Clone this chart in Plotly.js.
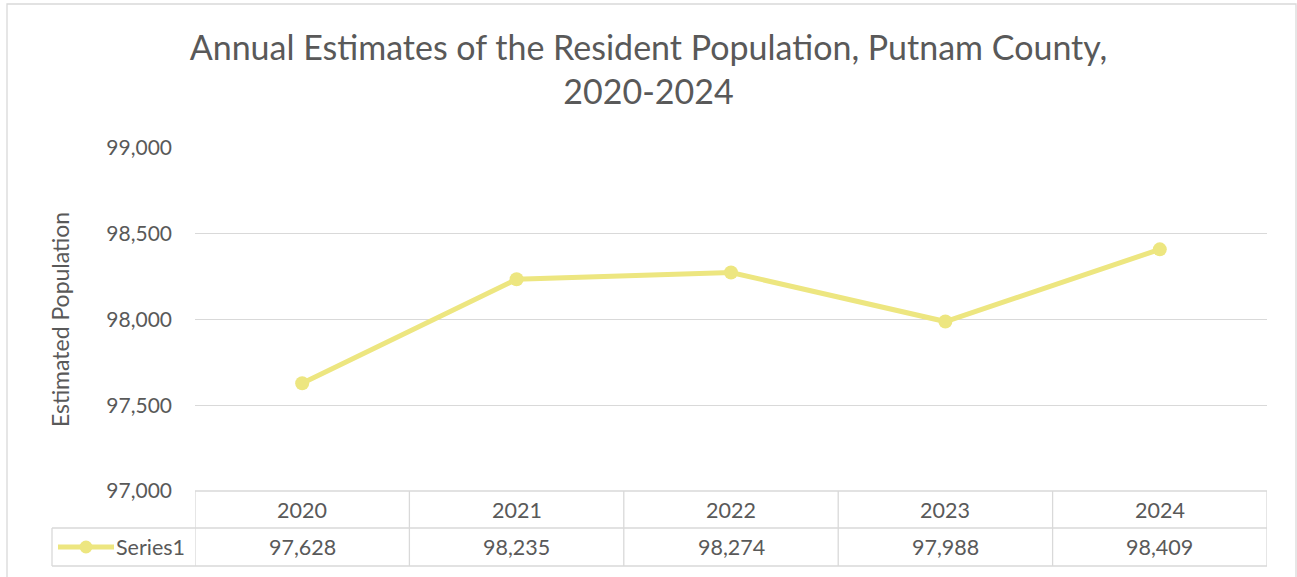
<!DOCTYPE html>
<html>
<head>
<meta charset="utf-8">
<script src="https://cdn.plot.ly/plotly-3.0.1.min.js"></script>
<style>
  html, body { margin: 0; padding: 0; background: #ffffff; }
  #chart { width: 1297px; height: 577px; }
</style>
</head>
<body>
<div id="chart"></div>
<script>
// ---- Data ----
const years = ["2020", "2021", "2022", "2023", "2024"];
const population = [97628, 98235, 98274, 97988, 98409];
const seriesName = "Series1";
const chartTitle = "Annual Estimates of the Resident Population, Putnam County,<br>2020-2024";
const yTitle = "Estimated Population";
const yTickVals = [97000, 97500, 98000, 98500, 99000];

// ---- Layout geometry (pixels) ----
const W = 1297, H = 577;
const L = 195, R = 30, T = 148, B = 86;
const plotW = W - L - R, plotH = H - T - B;
const px2x = p => (p - L) / plotW;          // pixel x -> paper x
const py2y = p => (H - B - p) / plotH;      // pixel y -> paper y

const FONT = "Lato, 'Open Sans', sans-serif";
const TXT = "#595959";
const GRID = "#D9D9D9";
const LINEC = "#EDE680";
const TBL_SIZE = 21.5;

const rowTop = H - B;      // 491
const rowMid = 528;
const rowBot = 566;

const shapes = [];
// outer chart border
shapes.push({type: "rect", xref: "paper", yref: "paper",
  x0: px2x(7), x1: px2x(1296), y0: py2y(4), y1: py2y(600),
  line: {color: GRID, width: 1.3}, layer: "below"});
// table horizontal lines
shapes.push({type: "line", xref: "paper", yref: "paper", x0: px2x(L), x1: px2x(W - R), y0: py2y(rowTop), y1: py2y(rowTop), line: {color: GRID, width: 1.3}});
shapes.push({type: "line", xref: "paper", yref: "paper", x0: px2x(52), x1: px2x(W - R), y0: py2y(rowMid), y1: py2y(rowMid), line: {color: GRID, width: 1.3}});
shapes.push({type: "line", xref: "paper", yref: "paper", x0: px2x(52), x1: px2x(W - R), y0: py2y(rowBot), y1: py2y(rowBot), line: {color: GRID, width: 1.3}});
// legend cell left line
shapes.push({type: "line", xref: "paper", yref: "paper", x0: px2x(52), x1: px2x(52), y0: py2y(rowMid), y1: py2y(rowBot), line: {color: GRID, width: 1.3}});
// column boundaries
for (let i = 0; i <= years.length; i++) {
  shapes.push({type: "line", xref: "x", yref: "paper", x0: i - 0.5, x1: i - 0.5,
    y0: py2y(rowTop), y1: py2y(rowBot), line: {color: GRID, width: 1.3}});
}
// legend key line
shapes.push({type: "line", xref: "paper", yref: "paper", x0: px2x(58), x1: px2x(114),
  y0: py2y(547), y1: py2y(547), line: {color: LINEC, width: 5}});
shapes.push({type: "circle", xref: "paper", yref: "paper", x0: px2x(79.5), x1: px2x(92.5),
  y0: py2y(553.5), y1: py2y(540.5), fillcolor: LINEC, line: {color: LINEC, width: 0}});

const annotations = [];
years.forEach((yr, i) => {
  annotations.push({xref: "x", yref: "paper", x: i, y: py2y((rowTop + rowMid) / 2),
    text: yr, showarrow: false, xanchor: "center", yanchor: "middle",
    font: {family: FONT, size: TBL_SIZE, color: TXT}});
  annotations.push({xref: "x", yref: "paper", x: i, y: py2y((rowMid + rowBot) / 2),
    text: population[i].toLocaleString("en-US"), showarrow: false, xanchor: "center", yanchor: "middle",
    font: {family: FONT, size: TBL_SIZE, color: TXT}});
});
annotations.push({xref: "paper", yref: "paper", x: px2x(114), y: py2y((rowMid + rowBot) / 2),
  text: seriesName, showarrow: false, xanchor: "left", yanchor: "middle",
  font: {family: FONT, size: TBL_SIZE, color: TXT}});

const trace = {
  type: "scatter", mode: "lines+markers",
  x: years.map((_, i) => i), y: population, name: seriesName,
  line: {color: LINEC, width: 5},
  marker: {color: LINEC, size: 14},
  cliponaxis: false, hoverinfo: "skip"
};

const layout = {
  width: W, height: H,
  margin: {l: L, r: R, t: T, b: B, pad: 0},
  paper_bgcolor: "#ffffff", plot_bgcolor: "#ffffff",
  showlegend: false,
  font: {family: FONT, color: TXT},
  title: {text: chartTitle, x: 0.5, xref: "container", xanchor: "center",
    y: 1 - 60 / H, yref: "container", yanchor: "top",
    font: {family: FONT, size: 34, color: TXT}},
  xaxis: {range: [-0.5, years.length - 0.5], showgrid: false, zeroline: false,
    showticklabels: false, ticks: "", showline: false, fixedrange: true},
  yaxis: {range: [97000, 99000], tickvals: yTickVals,
    ticktext: yTickVals.map(v => v.toLocaleString("en-US")),
    showgrid: true, gridcolor: GRID, gridwidth: 1.3, zeroline: false, showline: false,
    ticks: "", ticklabelstandoff: 22,
    tickfont: {family: FONT, size: 21, color: TXT},
    title: {text: yTitle, standoff: 30, font: {family: FONT, size: 23, color: TXT}},
    fixedrange: true},
  shapes: shapes,
  annotations: annotations
};

Plotly.newPlot("chart", [trace], layout, {displayModeBar: false, staticPlot: true});
</script>
</body>
</html>
